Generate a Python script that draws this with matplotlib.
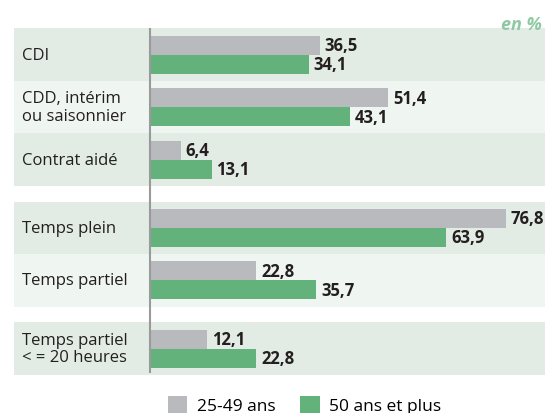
import matplotlib
matplotlib.use("Agg")
import matplotlib.pyplot as plt
from matplotlib.patches import Patch

# Données (en %)
categories = ["CDI", "CDD, intérim\nou saisonnier", "Contrat aidé",
              "Temps plein", "Temps partiel", "Temps partiel\n< = 20 heures"]
val_25_49 = [36.5, 51.4, 6.4, 76.8, 22.8, 12.1]
val_50_plus = [34.1, 43.1, 13.1, 63.9, 35.7, 22.8]
labels_25_49 = ["36,5", "51,4", "6,4", "76,8", "22,8", "12,1"]
labels_50_plus = ["34,1", "43,1", "13,1", "63,9", "35,7", "22,8"]
series_names = ["25-49 ans", "50 ans et plus"]

GRIS = "#b9babe"
VERT = "#63b27c"
BANDE_FONCEE = "#e2ece4"
BANDE_CLAIRE = "#eff5f0"
TEXTE = "#231f20"

plt.rcParams["font.family"] = ["Open Sans", "DejaVu Sans"]

W, H = 545, 414
fig = plt.figure(figsize=(W / 100, H / 100), dpi=100)
# zone des bandes : x de 14 à 545 px, y de 29 à 377 px
ax = fig.add_axes([14 / W, (H - 376.7) / H, (W - 14) / W, (376.7 - 29.3) / H])

# positions verticales des groupes (un écart entre les blocs)
pos = [0, 1, 2, 3.3, 4.3, 5.6]
bandes = [BANDE_FONCEE, BANDE_CLAIRE, BANDE_FONCEE, BANDE_FONCEE, BANDE_CLAIRE, BANDE_FONCEE]
px_par_unite = 4.62
x0 = -(151 - 14) / px_par_unite
ax.set_xlim(x0, x0 + (W - 14) / px_par_unite)
ax.set_ylim(6.117, -0.5)
ax.axis("off")

for p, c in zip(pos, bandes):
    ax.axhspan(p - 0.5, p + 0.5, color=c, lw=0, zorder=0)

h = 0.362
ax.barh([p - h / 2 for p in pos], val_25_49, height=h, color=GRIS, zorder=2)
ax.barh([p + h / 2 for p in pos], val_50_plus, height=h, color=VERT, zorder=2)

ax.plot([-0.22, -0.22], [-0.5, 6.07], color="#9a9a9c", lw=1.5, zorder=3,
        solid_capstyle="butt")

ecart = 5 / px_par_unite
for p, cat, v1, v2, l1, l2 in zip(pos, categories, val_25_49, val_50_plus,
                                   labels_25_49, labels_50_plus):
    ax.text(x0 + 8 / px_par_unite, p, cat, va="center", ha="left",
            fontsize=12, color=TEXTE, linespacing=1.15)
    ax.text(v1 + ecart, p - h / 2, l1, va="center", ha="left",
            fontsize=12, fontweight="bold", color=TEXTE)
    ax.text(v2 + ecart, p + h / 2, l2, va="center", ha="left",
            fontsize=12, fontweight="bold", color=TEXTE)

fig.text(1 - 3 / W, 1 - 30 / H, "en %", ha="right", va="baseline",
         fontsize=13, fontweight="bold", fontstyle="italic", color="#8fc9a2")

handles = [Patch(facecolor=GRIS, edgecolor="none"),
           Patch(facecolor=VERT, edgecolor="none")]
fig.legend(handles, series_names, loc="center", bbox_to_anchor=(0.559, 8 / H),
           ncol=2, frameon=False, fontsize=12.5, handlelength=1.12,
           handleheight=1.12, handletextpad=0.55, columnspacing=1.44,
           borderaxespad=0, borderpad=0)

fig.savefig("out.png", dpi=100)
